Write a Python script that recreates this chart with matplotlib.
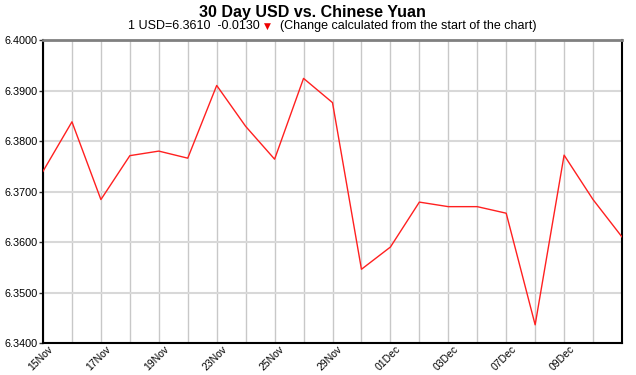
import matplotlib
matplotlib.use("Agg")
import matplotlib.pyplot as plt
import matplotlib.transforms as mtransforms

plt.rcParams['font.family'] = ['Liberation Sans', 'DejaVu Sans']

# 21 business days, 15 Nov -> 13 Dec
dates = ["15Nov", "16Nov", "17Nov", "18Nov", "19Nov", "22Nov", "23Nov", "24Nov",
         "25Nov", "26Nov", "29Nov", "30Nov", "01Dec", "02Dec", "03Dec", "06Dec",
         "07Dec", "08Dec", "09Dec", "10Dec", "13Dec"]
rates = [6.3740, 6.3838, 6.3684, 6.3771, 6.3780, 6.3766, 6.3910, 6.3829,
         6.3764, 6.3924, 6.3876, 6.3546, 6.3590, 6.3679, 6.3670, 6.3670,
         6.3657, 6.3436, 6.3772, 6.3684, 6.3610]
yticks = [6.34, 6.35, 6.36, 6.37, 6.38, 6.39, 6.40]

fig = plt.figure(figsize=(6.36, 3.75), dpi=100)
ax = fig.add_axes([43 / 636, 1 - 343 / 375, 579 / 636, 303 / 375])

x = list(range(len(rates)))
ax.plot(x, rates, color="#ff2020", linewidth=1.0, zorder=3)

ax.set_xlim(0, len(rates) - 1)
ax.set_ylim(6.34, 6.40)
ax.set_yticks(yticks)
ax.set_yticklabels([f"{v:.4f}" for v in yticks], fontsize=7.8)

ax.xaxis.grid(True, color="#c8c8c8", linewidth=1.0)
ax.yaxis.grid(True, color="#d8d8d8", linewidth=1.5)
ax.set_axisbelow(True)
ax.tick_params(axis="x", length=0, pad=0)
ax.tick_params(axis="y", length=3, width=1, color="#333333", pad=1)

# vertical grid at every day, labels every second day
ax.set_xticks(x)
ax.set_xticklabels([d if i % 2 == 0 and i < 20 else "" for i, d in enumerate(dates)],
                   fontsize=7.5, rotation=45, ha="right", va="center", rotation_mode="anchor")
offset = mtransforms.ScaledTranslation(6 / 72, -3 / 72, fig.dpi_scale_trans)
for lbl in ax.get_xticklabels():
    lbl.set_transform(lbl.get_transform() + offset)

for side in ["left", "bottom", "right"]:
    ax.spines[side].set_color("black")
    ax.spines[side].set_linewidth(1.5)
ax.spines["top"].set_color("#808080")
ax.spines["top"].set_linewidth(2)

fig.text(312 / 636, 1 - 13 / 375, "30 Day USD vs. Chinese Yuan",
         fontsize=11.5, fontweight="bold", ha="center", va="center")
fig.text(260 / 636, 1 - 26 / 375, "1 USD=6.3610  -0.0130",
         fontsize=9, ha="right", va="center")
fig.text(267 / 636, 1 - 26 / 375, "\u25bc", color="#ee0000",
         fontsize=6.5, ha="center", va="center", family=["DejaVu Sans"])
fig.text(280 / 636, 1 - 26 / 375, "(Change calculated from the start of the chart)",
         fontsize=9, ha="left", va="center")

fig.savefig("out.png", dpi=100)
